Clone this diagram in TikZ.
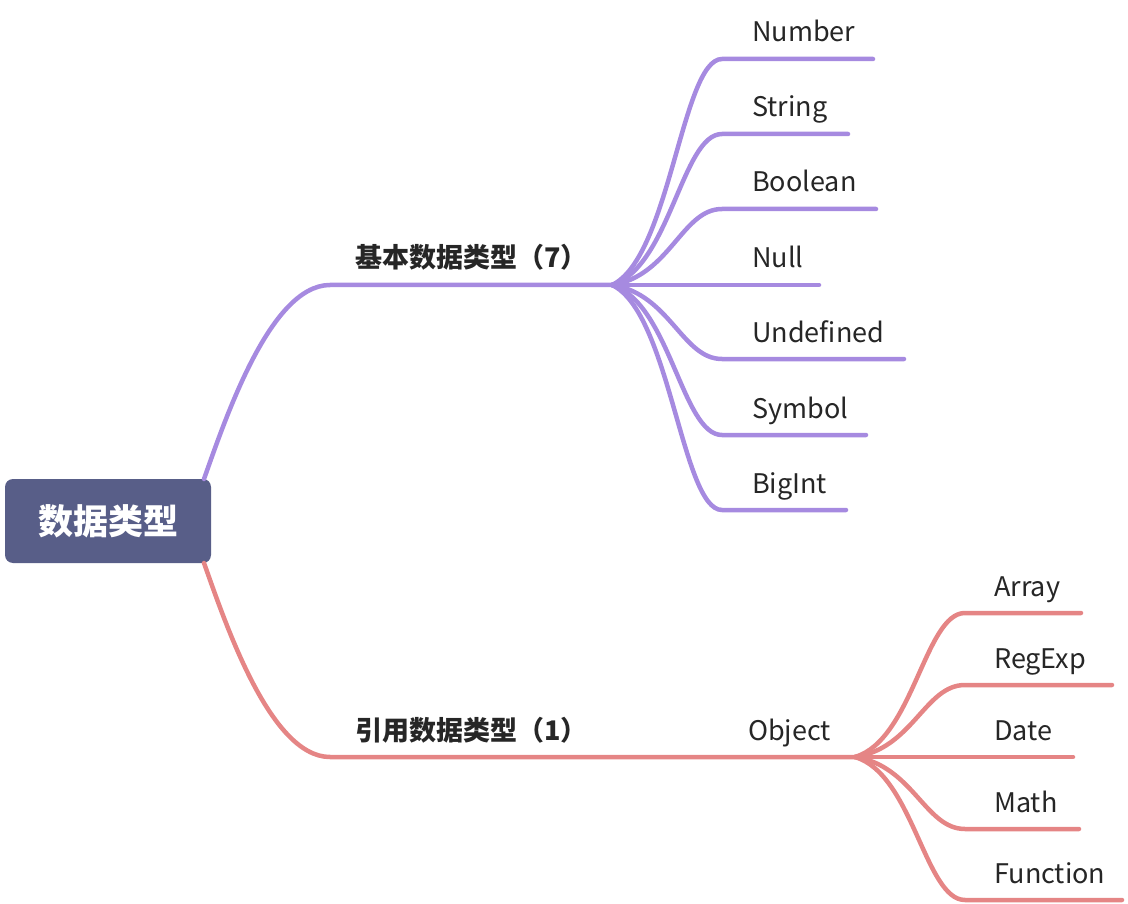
\documentclass[tikz,border=0pt]{standalone}
\usepackage{fontspec}
\setmainfont{Noto Sans CJK SC}
\usetikzlibrary{calc}
\definecolor{purp}{HTML}{A68AE0}
\definecolor{redl}{HTML}{E58585}
\definecolor{rootc}{HTML}{585E88}
\definecolor{txt}{HTML}{262626}
\tikzset{
  purline/.style={draw=purp, line width=4.5pt, line cap=round},
  redline/.style={draw=redl, line width=4.5pt, line cap=round},
  leaf/.style={anchor=base west, inner sep=0pt, text=txt, font=\fontsize{27}{30}\selectfont},
  branchlabel/.style={anchor=base west, inner sep=0pt, text=txt, font=\fontsize{27}{30}\selectfont\bfseries},
  rootbox/.style={fill=rootc, rounded corners=8pt, minimum width=206pt, minimum height=84pt, text=white, font=\fontsize{35}{40}\selectfont\bfseries}
}
\begin{document}
\begin{tikzpicture}[x=1pt,y=-1pt]
\useasboundingbox (0,0) rectangle (1128,904);
% root
\node[rootbox] (root) at (108,521) {数据类型};
\coordinate (rtop) at (204,479);
\coordinate (rbot) at (204,563);
% purple branch
\coordinate (b1s) at (330,285);
\coordinate (b1e) at (612,285);
\draw[purline] (rtop) .. controls (225,420) and (270,285) .. (b1s) -- (b1e);
\node[branchlabel] (b1) at (355,268) {基本数据类型（7）};
% purple children
\foreach \nm/\yy/\ee in {Number/59/873, String/134/848, Boolean/209/876, Null/285/819, Undefined/359/904, Symbol/435/866, BigInt/510/846}{
  \coordinate (c\nm) at (722,\yy);
  \coordinate (e\nm) at (\ee,\yy);
  \draw[purline] (b1e) .. controls ($(b1e)+(58,{0.12*(\yy-285)})$) and +(-40,0) .. (c\nm) -- (e\nm);
  \node[leaf] (t\nm) at (752,\yy-17) {\nm};
}
% red branch
\coordinate (b2s) at (330,757);
\coordinate (b2e) at (855,757);
\draw[redline] (rbot) .. controls (225,622) and (270,757) .. (b2s) -- (b2e);
\node[branchlabel] (b2) at (355,740) {引用数据类型（1）};
\node[leaf] (obj) at (748,740) {Object};
% red children
\foreach \nm/\yy/\ee in {Array/613/1081, RegExp/685/1112, Date/757/1073, Math/829/1079, Function/900/1122}{
  \coordinate (c\nm) at (965,\yy);
  \coordinate (e\nm) at (\ee,\yy);
  \draw[redline] (b2e) .. controls ($(b2e)+(58,{0.12*(\yy-757)})$) and +(-40,0) .. (c\nm) -- (e\nm);
  \node[leaf] (t\nm) at (994,\yy-17) {\nm};
}
\end{tikzpicture}
\end{document}
